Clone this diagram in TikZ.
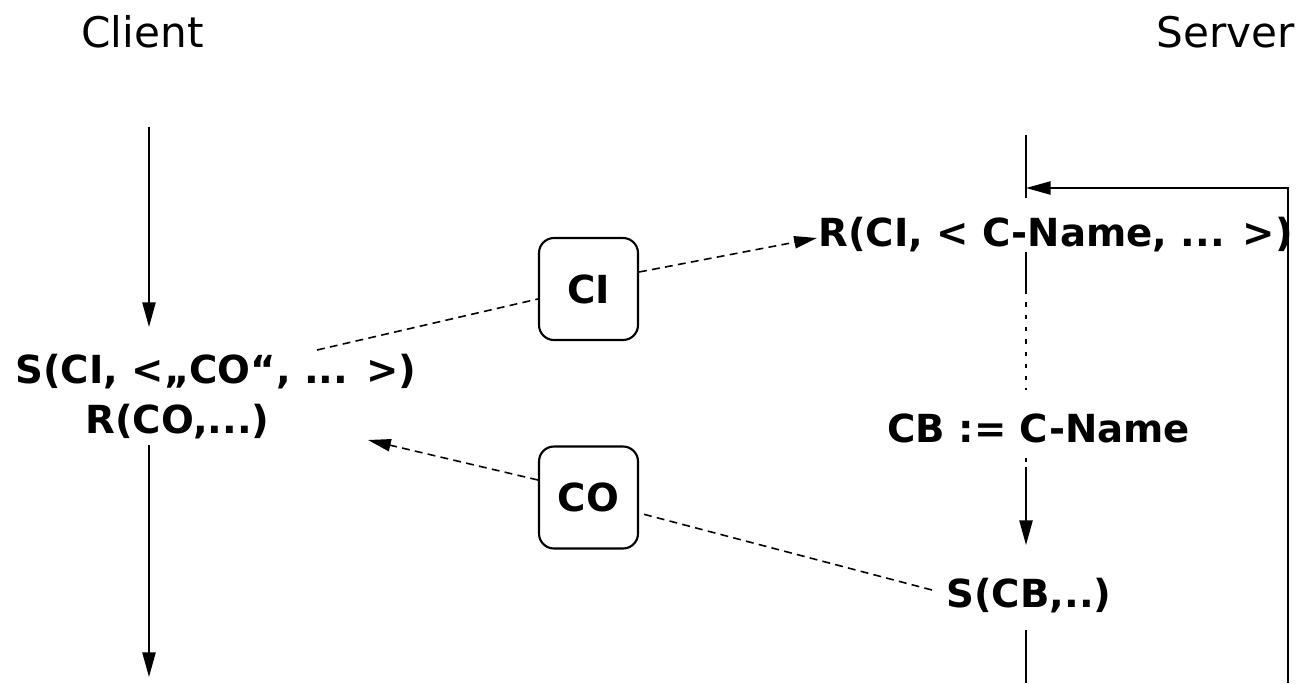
\documentclass[tikz,border=0pt]{standalone}
\usepackage{fontspec}
\setmainfont{DejaVu Sans}
\usetikzlibrary{arrows.meta}
\begin{document}
\begin{tikzpicture}[x=0.02cm,y=-0.02cm,
  lbl/.style={font=\fontsize{22}{26}\selectfont\bfseries, inner sep=0pt, anchor=base west},
  head/.style={font=\fontsize{24}{28}\selectfont, inner sep=0pt, anchor=base},
  msgbox/.style={draw, line width=1.2pt, rounded corners=8.5pt, minimum width=1.98cm,
    minimum height=2.04cm, inner sep=0pt, font=\fontsize{22}{26}\selectfont\bfseries},
  flow/.style={line width=1pt},
  flowarrow/.style={flow, -{Triangle[length=14pt,width=7.5pt]}},
  msg/.style={line width=0.9pt, dash pattern=on 4.5pt off 3pt},
  msgarrow/.style={msg, -{Triangle[length=13pt,width=7pt]}},
  dots/.style={line width=1pt, dash pattern=on 2.5pt off 4.5pt}]
\useasboundingbox (0,0) rectangle (1297,683);

% headers
\node[head] (client) at (142.5,47) {Client};
\node[head] (server) at (1226,47) {Server};

% client side texts
\node[lbl] (sci) at (15,383) {S(CI, <„CO“, ... >)};
\node[lbl] (rco) at (85,433) {R(CO,...)};

% server side texts
\node[lbl] (rci) at (818,246) {R(CI, < C-Name, ... >)};
\node[lbl] (cb) at (887,442) {CB := C-Name};
\node[lbl] (scb) at (946,607) {S(CB,..)};

% message boxes
\node[msgbox] (ci) at (588.5,289) {CI};
\node[msgbox] (co) at (588.5,497.5) {CO};

% client life line
\coordinate (c0) at (149,127);
\coordinate (c1) at (149,327);
\coordinate (c2) at (149,445);
\coordinate (c3) at (149,677);
\draw[flowarrow] (c0) -- (c1);
\draw[flowarrow] (c2) -- (c3);

% server life line
\coordinate (s0) at (1026,135);
\coordinate (s1) at (1026,198);
\coordinate (s2) at (1026,252);
\coordinate (s3) at (1026,290);
\coordinate (s4) at (1026,390);
\coordinate (s5) at (1026,458);
\coordinate (s6) at (1026,467);
\coordinate (s7) at (1026,545);
\coordinate (s8) at (1026,630);
\coordinate (s9) at (1026,683);
\draw[flow] (s0) -- (s1);
\draw[flow] (s2) -- (s3);
\draw[dots] (s3) -- (s4);
\draw[dots] (s5) -- (s6);
\draw[flowarrow] (s6) -- (s7);
\draw[flow] (s8) -- (s9);

% loop back
\coordinate (l0) at (1288,683);
\coordinate (l1) at (1288,188);
\coordinate (l2) at (1026,188);
\draw[flowarrow] (l0) -- (l1) -- (l2);

% messages
\coordinate (sciout) at (317,350);
\coordinate (rciin) at (817,238);
\coordinate (rcoin) at (368,440);
\coordinate (scbout) at (932,590);
\draw[msg] (sciout) -- (ci.west |- 0,299);
\draw[msgarrow] (ci.east |- 0,272) -- (rciin);
\draw[msg] (scbout) -- (co.east |- 0,513);
\draw[msgarrow] (co.west |- 0,480) -- (rcoin);
\end{tikzpicture}
\end{document}
